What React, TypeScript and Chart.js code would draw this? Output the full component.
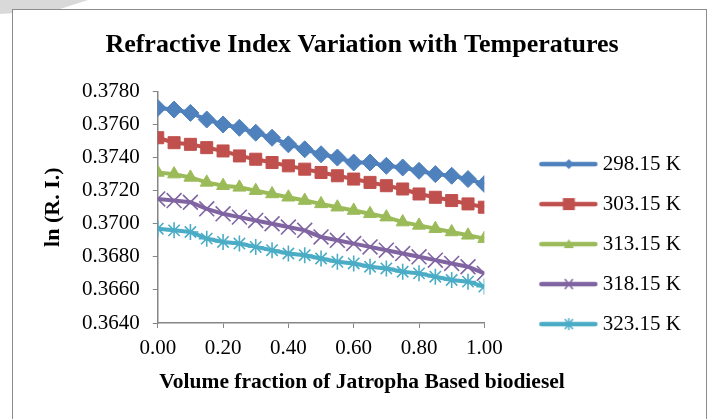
import React, { useEffect, useRef } from "react";
import { Chart, registerables } from "chart.js";

Chart.register(...registerables);

// ---------- data ----------
const xValues = [0.0, 0.05, 0.1, 0.15, 0.2, 0.25, 0.3, 0.35, 0.4, 0.45, 0.5, 0.55, 0.6, 0.65, 0.7, 0.75, 0.8, 0.85, 0.9, 0.95, 1.0];

const seriesLabels = ["298.15 K", "303.15 K", "313.15 K", "318.15 K", "323.15 K"];

const ri29815 = [0.3770, 0.3769, 0.3767, 0.3763, 0.3760, 0.3758, 0.3755, 0.3752, 0.3748, 0.3745, 0.3742, 0.3740, 0.3737, 0.3737, 0.3735, 0.3734, 0.3732, 0.3730, 0.3729, 0.3727, 0.3724];
const ri30315 = [0.3752, 0.3749, 0.3748, 0.3746, 0.3744, 0.3741, 0.3739, 0.3737, 0.3735, 0.3733, 0.3731, 0.3729, 0.3727, 0.3725, 0.3723, 0.3721, 0.3718, 0.3716, 0.3714, 0.3712, 0.3710];
const ri31315 = [0.3731, 0.3730, 0.3728, 0.3725, 0.3723, 0.3722, 0.3720, 0.3718, 0.3716, 0.3714, 0.3712, 0.3710, 0.3708, 0.3706, 0.3704, 0.3701, 0.3699, 0.3697, 0.3695, 0.3693, 0.3691];
const ri31815 = [0.3715, 0.3714, 0.3713, 0.3709, 0.3706, 0.3704, 0.3702, 0.3700, 0.3698, 0.3696, 0.3692, 0.3690, 0.3688, 0.3686, 0.3684, 0.3682, 0.3680, 0.3678, 0.3676, 0.3674, 0.3670];
const ri32315 = [0.3697, 0.3696, 0.3695, 0.3691, 0.3689, 0.3688, 0.3686, 0.3684, 0.3682, 0.3681, 0.3679, 0.3677, 0.3676, 0.3674, 0.3673, 0.3671, 0.3670, 0.3668, 0.3666, 0.3665, 0.3662];

const seriesValues = [ri29815, ri30315, ri31315, ri31815, ri32315];

const xMin = 0;
const xMax = 1;
const xStep = 0.2;
const yMin = 0.364;
const yMax = 0.378;
const yStep = 0.002;

const chartTitle = "Refractive Index Variation with Temperatures";
const xTitle = "Volume fraction of Jatropha Based biodiesel";
const yTitle = "ln (R. I.)";

// ---------- styles ----------
const colors = ["#4F81BD", "#C0504D", "#9BBB59", "#8064A2", "#4BACC6"];
const pointStyles = ["rectRot", "rect", "triangle", "crossRot", "star"];
const pointRadii = [8.5, 8.5, 7.5, 10.5, 8];
const SERIF = "'Times New Roman', 'Liberation Serif', serif";
const AXIS = "#868686";

function makeLegendIcon(color: string, style: string) {
  const c = document.createElement("canvas");
  const lineStart = 42;
  const w = 101;
  c.width = w;
  c.height = 16;
  const ctx = c.getContext("2d")!;
  const cy = 8;
  ctx.strokeStyle = color;
  ctx.fillStyle = color;
  ctx.lineCap = "round";
  ctx.lineWidth = 4.5;
  ctx.beginPath();
  ctx.moveTo(lineStart + 2, cy);
  ctx.lineTo(w - 3, cy);
  ctx.stroke();
  const mx = (lineStart + w) / 2;
  ctx.lineWidth = 1.5;
  ctx.lineCap = "butt";
  if (style === "rectRot") {
    ctx.beginPath();
    ctx.moveTo(mx, cy - 5);
    ctx.lineTo(mx + 5, cy);
    ctx.lineTo(mx, cy + 5);
    ctx.lineTo(mx - 5, cy);
    ctx.closePath();
    ctx.fill();
  } else if (style === "rect") {
    ctx.fillRect(mx - 6, cy - 6, 12, 12);
  } else if (style === "triangle") {
    ctx.beginPath();
    ctx.moveTo(mx, cy - 5);
    ctx.lineTo(mx + 5, cy + 4);
    ctx.lineTo(mx - 5, cy + 4);
    ctx.closePath();
    ctx.fill();
  } else if (style === "crossRot") {
    ctx.beginPath();
    ctx.moveTo(mx - 4, cy - 5);
    ctx.lineTo(mx + 4, cy + 5);
    ctx.moveTo(mx + 4, cy - 5);
    ctx.lineTo(mx - 4, cy + 5);
    ctx.stroke();
  } else if (style === "star") {
    ctx.beginPath();
    ctx.moveTo(mx - 4, cy - 5);
    ctx.lineTo(mx + 4, cy + 5);
    ctx.moveTo(mx + 4, cy - 5);
    ctx.lineTo(mx - 4, cy + 5);
    ctx.moveTo(mx, cy - 6);
    ctx.lineTo(mx, cy + 6);
    ctx.stroke();
  }
  return c;
}

export default function App() {
  const canvasRef = useRef<HTMLCanvasElement | null>(null);

  useEffect(() => {
    const canvas = canvasRef.current;
    if (!canvas) return;

    const icons = colors.map((c, i) => makeLegendIcon(c, pointStyles[i]));

    const datasets = seriesValues.map((vals, i) => ({
      label: seriesLabels[i],
      data: xValues.map((x, j) => ({ x, y: vals[j] })),
      borderColor: colors[i],
      backgroundColor: colors[i],
      borderWidth: 4,
      pointStyle: pointStyles[i] as any,
      pointRadius: pointRadii[i],
      pointBorderWidth: i >= 3 ? 1.6 : 1,
      pointBorderColor: colors[i],
      pointBackgroundColor: colors[i],
      tension: 0,
      order: seriesValues.length - i,
    }));

    const chart = new Chart(canvas, {
      type: "line",
      data: { datasets },
      options: {
        animation: false,
        responsive: false,
        maintainAspectRatio: false,
        devicePixelRatio: 1,
        layout: { padding: { left: 33, right: 20, top: 18, bottom: 18 } },
        plugins: {
          tooltip: { enabled: false },
          title: {
            display: true,
            text: chartTitle,
            color: "#000",
            font: { family: SERIF, size: 26, weight: "bold" },
            padding: { top: 11.4, bottom: 30.8 },
          },
          subtitle: {
            display: true,
            position: "bottom",
            text: xTitle,
            color: "#000",
            font: { family: SERIF, size: 21.5, weight: "bold" },
            padding: { top: 0, bottom: 6 },
          },
          legend: {
            display: true,
            position: "right",
            maxWidth: 400,
            title: { display: true, text: "", padding: { top: 34, bottom: 34 }, font: { size: 1 } },
            labels: {
              usePointStyle: true,
              pointStyleWidth: 89,
              boxHeight: 21,
              padding: 19,
              color: "#000",
              font: { family: SERIF, size: 21 },
              generateLabels: (ch: any) =>
                ch.data.datasets.map((ds: any, i: number) => ({
                  text: ds.label,
                  fillStyle: colors[i],
                  strokeStyle: colors[i],
                  lineWidth: 0,
                  pointStyle: icons[i],
                  hidden: false,
                  datasetIndex: i,
                  fontColor: "#000",
                })),
            },
          },
        },
        scales: {
          x: {
            type: "linear",
            min: xMin,
            max: xMax,
            ticks: {
              stepSize: xStep,
              color: "#000",
              font: { family: SERIF, size: 21 },
              padding: 8,
              callback: (v: any) => Number(v).toFixed(2),
            },
            grid: { display: true, drawOnChartArea: false, drawTicks: true, tickLength: 5, color: AXIS },
            border: { display: true, color: AXIS, width: 1.5 },
          },
          y: {
            type: "linear",
            min: yMin,
            max: yMax,
            ticks: {
              stepSize: yStep,
              color: "#000",
              font: { family: SERIF, size: 21 },
              padding: 13,
              callback: (v: any) => Number(v).toFixed(4),
            },
            grid: { display: true, drawOnChartArea: false, drawTicks: true, tickLength: 5, color: AXIS },
            border: { display: true, color: AXIS, width: 1.5 },
            title: {
              display: true,
              text: yTitle,
              color: "#000",
              font: { family: SERIF, size: 22, weight: "bold" },
              padding: { top: 6.8, bottom: 2.8 },
            },
          },
        },
      },
    });

    return () => chart.destroy();
  }, []);

  return (
    <div style={{ position: "fixed", left: 0, top: 0, width: 711, height: 419, overflow: "hidden", background: "#fff" }}>
      <div
        style={{
          position: "absolute",
          left: 0,
          top: 0,
          width: 90,
          height: 16,
          background: "#d9d9d9",
          clipPath: "polygon(0 0, 88px 0, 60px 9px, 30px 12px, 0 14px)",
        }}
      />
      <div
        style={{
          position: "absolute",
          left: 12,
          top: 9,
          width: 695,
          height: 480,
          border: "1.5px solid #8c8c8c",
          background: "#fff",
          boxSizing: "border-box",
        }}
      />
      <canvas ref={canvasRef} width={711} height={419} style={{ position: "absolute", left: 0, top: 0, width: 711, height: 419 }} />
    </div>
  );
}
